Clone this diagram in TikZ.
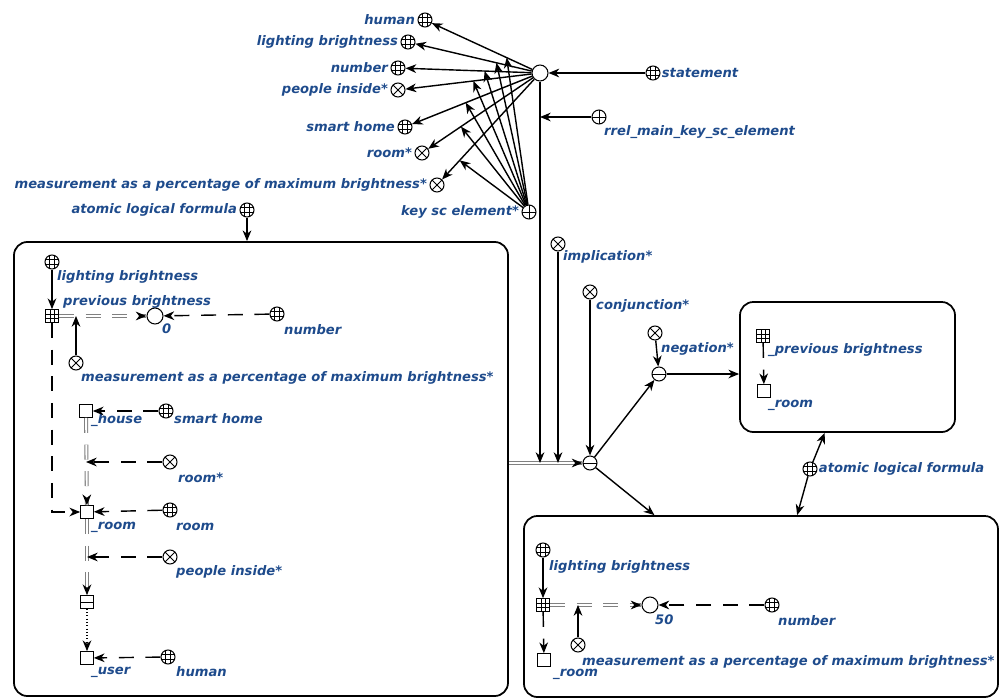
\documentclass[tikz,border=0pt]{standalone}
\usepackage{fontspec}
\setsansfont{DejaVu Sans}
\usepackage{xcolor}
\usepackage{tikz}
\usetikzlibrary{arrows.meta,positioning,calc,decorations.markings}
\definecolor{scblue}{RGB}{30,75,140}

\begin{document}
\begin{tikzpicture}[x=0.03cm,y=-0.03cm,>={Stealth[length=3.2mm,width=2.6mm,inset=1mm]},
  lbl/.style={inner sep=0pt,text=scblue,font=\sffamily\bfseries\itshape\fontsize{11.2}{13}\selectfont},
  sym/.style={draw,fill=white,line width=0.9pt,inner sep=0pt},
  cnd/.style={sym,circle,minimum size=4.8mm},
  cls/.style={sym,circle,minimum size=4.2mm,path picture={
    \draw[line width=0.5pt] ([xshift=-0.7mm]path picture bounding box.north) -- ([xshift=-0.7mm]path picture bounding box.south);
    \draw[line width=0.5pt] ([xshift=0.7mm]path picture bounding box.north) -- ([xshift=0.7mm]path picture bounding box.south);
    \draw[line width=0.5pt] ([yshift=-0.7mm]path picture bounding box.west) -- ([yshift=-0.7mm]path picture bounding box.east);
    \draw[line width=0.5pt] ([yshift=0.7mm]path picture bounding box.west) -- ([yshift=0.7mm]path picture bounding box.east);}},
  nrel/.style={sym,circle,minimum size=4.2mm,path picture={
    \draw[line width=0.8pt] (path picture bounding box.north west) -- (path picture bounding box.south east);
    \draw[line width=0.8pt] (path picture bounding box.south west) -- (path picture bounding box.north east);}},
  rrl/.style={sym,circle,minimum size=4.2mm,path picture={
    \draw[line width=0.8pt] (path picture bounding box.north) -- (path picture bounding box.south);
    \draw[line width=0.8pt] (path picture bounding box.west) -- (path picture bounding box.east);}},
  tup/.style={sym,circle,minimum size=4.2mm,path picture={
    \draw[line width=0.8pt] (path picture bounding box.west) -- (path picture bounding box.east);}},
  vsq/.style={sym,rectangle,minimum size=3.8mm},
  vcls/.style={sym,rectangle,minimum size=3.8mm,path picture={
    \draw[line width=0.5pt] ([xshift=-0.63mm]path picture bounding box.north) -- ([xshift=-0.63mm]path picture bounding box.south);
    \draw[line width=0.5pt] ([xshift=0.63mm]path picture bounding box.north) -- ([xshift=0.63mm]path picture bounding box.south);
    \draw[line width=0.5pt] ([yshift=-0.63mm]path picture bounding box.west) -- ([yshift=-0.63mm]path picture bounding box.east);
    \draw[line width=0.5pt] ([yshift=0.63mm]path picture bounding box.west) -- ([yshift=0.63mm]path picture bounding box.east);}},
  vtupsq/.style={sym,rectangle,minimum size=3.8mm,path picture={
    \draw[line width=0.8pt] (path picture bounding box.west) -- (path picture bounding box.east);}},
  arr/.style={->,line width=1.2pt},
  varr/.style={->,line width=1.2pt,dash pattern=on 4.5mm off 3.5mm},
  dotarr/.style={->,line width=1.2pt,dash pattern=on 0.6pt off 2.2pt},
  cline/.style={draw=gray,double=white,double distance=1.6pt,line width=0.9pt},
  dline/.style={cline,dash pattern=on 4.5mm off 3.5mm},
  dtip/.style={postaction={decorate,decoration={markings,mark=at position 1 with {\arrow[line width=1.2pt]{Stealth[length=3.2mm,width=2.6mm,inset=1mm]}}}}},
  box/.style={draw,rounded corners=4mm,line width=1.5pt,inner sep=0pt}]
  \useasboundingbox (0,0) rectangle (1002,700);
  \node[box,minimum width=14.82cm,minimum height=13.62cm] (lbox) at (261,469) {};
  \node[box,minimum width=6.45cm,minimum height=3.9cm] (rbox) at (847.5,367) {};
  \node[box,minimum width=14.22cm,minimum height=5.43cm] (bbox) at (761,606.5) {};
  \node[cnd] (hub) at (540,73) {};
  \node[cls] (stmt) at (653,73) {};
  \node[lbl,right=1pt of stmt] (stmtl) {statement};
  \node[rrl] (rrel) at (599,117) {};
  \node[lbl,anchor=west] (rrell) at (604,132) {rrel\_main\_key\_sc\_element};
  \node[cls] (hum0) at (425,20) {};
  \node[lbl,left=2pt of hum0] (hum0l) {human};
  \node[cls] (lbr0) at (408,42) {};
  \node[lbl,left=2pt of lbr0] (lbr0l) {lighting brightness};
  \node[cls] (num0) at (398,68) {};
  \node[lbl,left=2pt of num0] (num0l) {number};
  \node[nrel] (pin0) at (398,90) {};
  \node[lbl,left=2pt of pin0] (pin0l) {people inside*};
  \node[cls] (smh0) at (405,127) {};
  \node[lbl,left=2pt of smh0] (smh0l) {smart home};
  \node[nrel] (rms0) at (422,153) {};
  \node[lbl,left=2pt of rms0] (rms0l) {room*};
  \node[nrel] (mes0) at (437,185) {};
  \node[lbl,left=2pt of mes0] (mes0l) {measurement as a percentage of maximum brightness*};
  \node[rrl] (key) at (529,212) {};
  \node[lbl,left=2pt of key] (keyl) {key sc element*};
  \node[cls] (alf1) at (247,210) {};
  \node[lbl,left=2pt of alf1] (alf1l) {atomic logical formula};
  \node[tup] (ctup) at (590,463) {};
  \node[nrel] (imp) at (558,244) {};
  \node[lbl,anchor=west] (impl) at (563,257) {implication*};
  \node[nrel] (conj) at (590,292) {};
  \node[lbl,anchor=west] (conjl) at (596,306) {conjunction*};
  \node[nrel] (neg) at (655,333) {};
  \node[lbl,anchor=west] (negl) at (661,349) {negation*};
  \node[tup] (ntup) at (659,374) {};
  \node[cls] (alf2) at (810,469) {};
  \node[lbl,right=1pt of alf2] (alf2l) {atomic logical formula};
  \node[cls] (lbr1) at (52,262) {};
  \node[lbl,anchor=west] (lbr1l) at (57,277) {lighting brightness};
  \node[vcls] (prb1) at (52,316) {};
  \node[lbl,anchor=west] (prb1l) at (63,302) {previous brightness};
  \node[cnd] (zero) at (155,316) {};
  \node[lbl,anchor=west] (zerol) at (162,329) {0};
  \node[cls] (num1) at (277,314) {};
  \node[lbl,anchor=west] (num1l) at (284,330) {number};
  \node[nrel] (mes1) at (76,363) {};
  \node[lbl,anchor=west] (mes1l) at (81,378) {measurement as a percentage of maximum brightness*};
  \node[vsq] (house) at (86,411) {};
  \node[lbl,anchor=west] (housel) at (91,420) {\_house};
  \node[cls] (smh1) at (166,411) {};
  \node[lbl,anchor=west] (smh1l) at (174,419) {smart home};
  \node[nrel] (rms1) at (170,462) {};
  \node[lbl,anchor=west] (rms1l) at (178,478) {room*};
  \node[vsq] (room1) at (87,512) {};
  \node[lbl,anchor=west] (room1l) at (91,527) {\_room};
  \node[cls] (rmc1) at (170,510) {};
  \node[lbl,anchor=west] (rmc1l) at (176,527) {room};
  \node[nrel] (pin1) at (170,557) {};
  \node[lbl,anchor=west] (pin1l) at (176,572) {people inside*};
  \node[vtupsq] (vtup) at (87,602) {};
  \node[vsq] (user) at (87,658) {};
  \node[lbl,anchor=west] (userl) at (91,672) {\_user};
  \node[cls] (hum1) at (168,657) {};
  \node[lbl,anchor=west] (hum1l) at (176,672) {human};
  \node[vcls] (prb2) at (763,336) {};
  \node[lbl,anchor=west] (prb2l) at (768,350) {\_previous brightness};
  \node[vsq] (room2) at (764,391) {};
  \node[lbl,anchor=west] (room2l) at (768,405) {\_room};
  \node[cls] (lbr2) at (543,550) {};
  \node[lbl,anchor=west] (lbr2l) at (549,567) {lighting brightness};
  \node[vcls] (prb3) at (543,605) {};
  \node[cnd] (fifty) at (650,605) {};
  \node[lbl,anchor=west] (fiftyl) at (655,620) {50};
  \node[cls] (num2) at (772,605) {};
  \node[lbl,anchor=west] (num2l) at (778,621) {number};
  \node[nrel] (mes2) at (578,645) {};
  \node[lbl,anchor=west] (mes2l) at (582,662) {measurement as a percentage of maximum brightness*};
  \node[vsq] (room3) at (544,660) {};
  \node[lbl,anchor=west] (room3l) at (553,674) {\_room};
  \draw[arr] (stmt) -- (hub);
  \draw[cline] (lbox.east |- ctup) -- (ctup);
  \path[dtip] (lbox.east |- ctup) -- (ctup);
  \draw[arr] (hub) -- (hub |- ctup);
  \draw[arr] (rrel) -- (hub |- rrel);
  \draw[arr] (imp) -- (imp |- ctup);
  \draw[arr] (hub) -- (hum0);
  \draw[arr] (hub) -- (lbr0);
  \draw[arr] (hub) -- (num0);
  \draw[arr] (hub) -- (pin0);
  \draw[arr] (hub) -- (smh0);
  \draw[arr] (hub) -- (rms0);
  \draw[arr] (hub) -- (mes0);
  \draw[arr] (key) -- ($(hub)!0.29!(hum0)$);
  \draw[arr] (key) -- ($(hub)!0.33!(lbr0)$);
  \draw[arr] (key) -- ($(hub)!0.39!(num0)$);
  \draw[arr] (key) -- ($(hub)!0.47!(pin0)$);
  \draw[arr] (key) -- ($(hub)!0.55!(smh0)$);
  \draw[arr] (key) -- ($(hub)!0.67!(rms0)$);
  \draw[arr] (key) -- ($(hub)!0.78!(mes0)$);
  \draw[arr] (alf1) -- (alf1 |- lbox.north);
  \draw[arr] (conj) -- (ctup);
  \draw[arr] (ctup) -- (ntup);
  \draw[arr] (neg) -- (ntup);
  \draw[arr] (ntup) -- (rbox.west |- ntup);
  \draw[arr] (ctup) -- ($(bbox.north west)!0.276!(bbox.north east)$);
  \draw[arr] (alf2) -- ($(rbox.south west)!0.395!(rbox.south east)$);
  \draw[arr] (alf2) -- ($(bbox.north west)!0.576!(bbox.north east)$);
  \draw[arr] (lbr1) -- (prb1);
  \draw[dline] (prb1) -- (zero);
  \path[dtip] (prb1) -- (zero);
  \draw[varr] (num1) -- (zero);
  \draw[arr] (mes1) -- (mes1 |- prb1);
  \draw[varr] (smh1) -- (house);
  \draw[dline] (house) -- (room1);
  \path[dtip] (house) -- (room1);
  \draw[varr] (rms1) -- (house |- rms1);
  \draw[varr] (prb1) |- (room1);
  \draw[varr] (rmc1) -- (room1);
  \draw[dline] (room1) -- (vtup);
  \path[dtip] (room1) -- (vtup);
  \draw[varr] (pin1) -- (room1 |- pin1);
  \draw[dotarr] (vtup) -- (user);
  \draw[varr] (hum1) -- (user);
  \draw[varr] (prb2) -- (room2);
  \draw[arr] (lbr2) -- (prb3);
  \draw[dline] (prb3) -- (fifty);
  \path[dtip] (prb3) -- (fifty);
  \draw[varr] (num2) -- (fifty);
  \draw[arr] (mes2) -- (mes2 |- prb3);
  \draw[varr] (prb3) -- (room3);
\end{tikzpicture}
\end{document}
